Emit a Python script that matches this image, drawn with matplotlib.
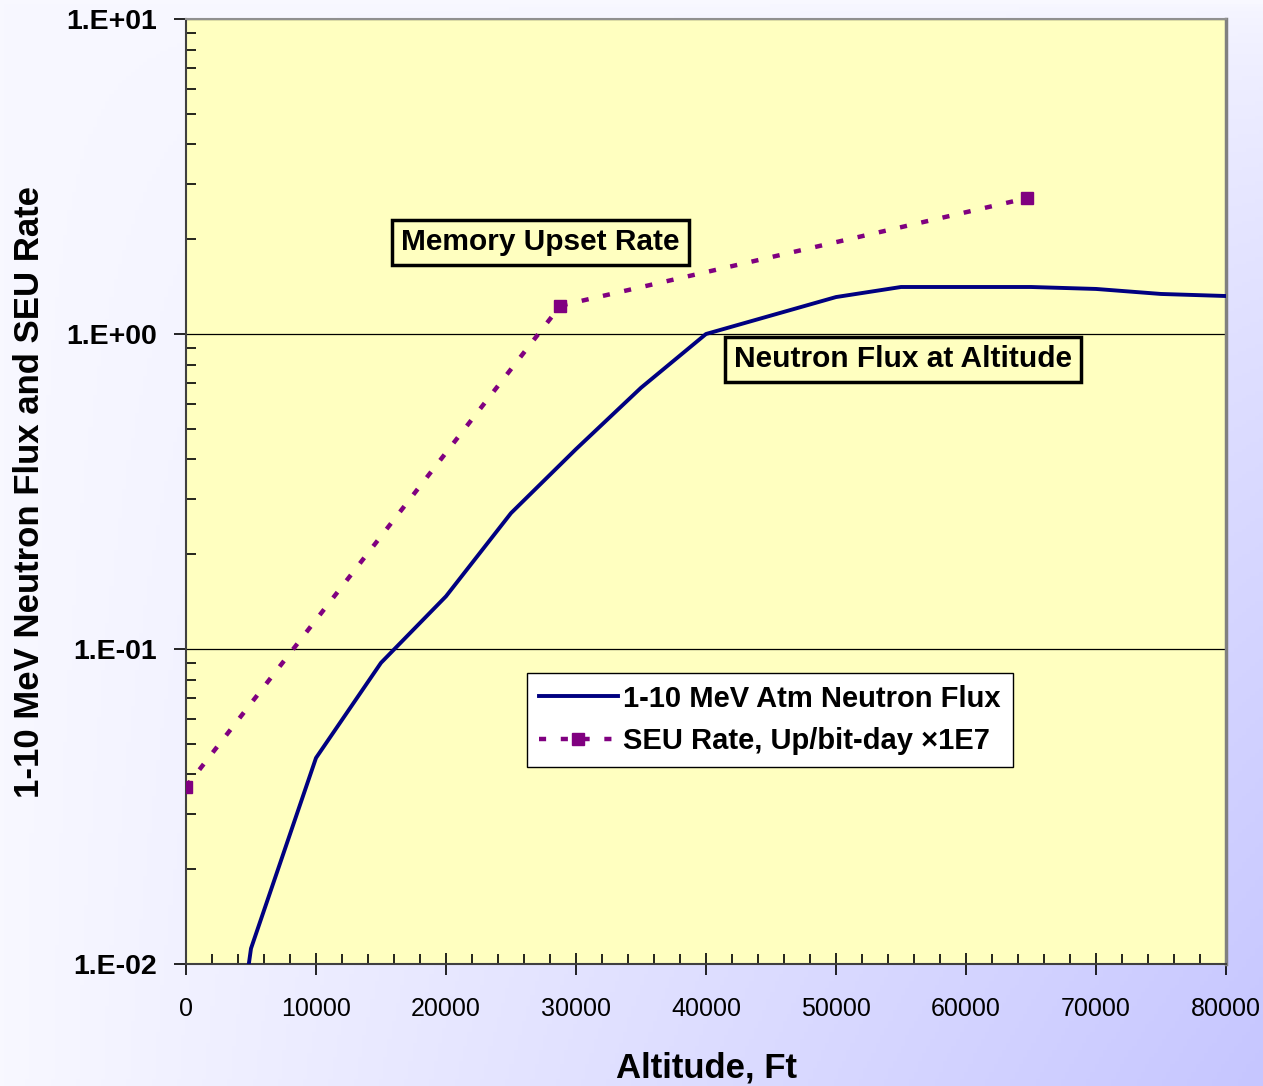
import numpy as np
import matplotlib.pyplot as plt
from matplotlib.ticker import FixedLocator, LogLocator, NullFormatter, MultipleLocator

# neutron flux vs altitude
alt_flux = [4500, 5000, 10000, 15000, 20000, 25000, 30000, 35000, 40000,
            50000, 55000, 60000, 65000, 70000, 75000, 80000]
flux = [0.008, 0.0112, 0.0451, 0.0904, 0.147, 0.270, 0.431, 0.675, 1.0,
        1.31, 1.41, 1.41, 1.41, 1.39, 1.34, 1.32]

# SEU rate x1E7
alt_seu = [0, 28800, 64700]
seu = [0.0365, 1.23, 2.70]

y_ticks = [1e-2, 1e-1, 1e0, 1e1]
y_labels = ['1.E-02', '1.E-01', '1.E+00', '1.E+01']
x_ticks = list(range(0, 80001, 10000))

bold = {'family': 'Liberation Sans', 'weight': 'bold'}

fig = plt.figure(figsize=(12.63, 10.86), dpi=100)

# gradient background (white -> lavender toward bottom right)
bg = fig.add_axes([0, 0, 1, 1], zorder=-10)
gx = np.linspace(0, 1, 300)
gy = np.linspace(0, 1, 300)
X, Y = np.meshgrid(gx, gy)
delta = 50 * X * Y ** 0.6
img = np.zeros((300, 300, 3))
img[..., 0] = (248 - delta) / 255
img[..., 1] = (248 - delta) / 255
img[..., 2] = 1.0
bg.imshow(img, aspect='auto', extent=[0, 1, 0, 1], origin='upper')
bg.axis('off')

ax = fig.add_axes([186 / 1263, 1 - 964 / 1086, 1040 / 1263, 945 / 1086])
ax.set_facecolor('#FFFFC0')

ax.plot(alt_flux, flux, color='#000080', lw=2.8, label='1-10 MeV Atm Neutron Flux', zorder=3)
ax.plot(alt_seu, seu, color='#800080', lw=3.2, dashes=(1.6, 3.3), marker='s', ms=8.5,
        label='SEU Rate, Up/bit-day \u00d71E7', zorder=3)

ax.set_yscale('log')
ax.set_xlim(0, 80000)
ax.set_ylim(1e-2, 1e1)

ax.yaxis.set_major_locator(FixedLocator(y_ticks))
ax.set_yticklabels(y_labels, fontdict=bold, fontsize=20.5)
ax.yaxis.set_minor_locator(LogLocator(base=10, subs=np.arange(2, 10)))
ax.yaxis.set_minor_formatter(NullFormatter())
ax.tick_params(axis='y', which='major', direction='out', length=9, width=1.2, pad=12)
ax.tick_params(axis='y', which='minor', direction='in', length=7, width=1.2)

ax.set_xticks(x_ticks)
ax.set_xticklabels([str(v) for v in x_ticks], family='Liberation Sans', fontsize=18)
ax.xaxis.set_minor_locator(MultipleLocator(2000))
ax.tick_params(axis='x', which='major', direction='inout', length=16, width=1.2, pad=16)
ax.tick_params(axis='x', which='minor', direction='in', length=7, width=1.2)

ax.yaxis.grid(True, which='major', color='black', lw=0.9)
ax.set_axisbelow(True)

ax.spines['left'].set_color('#404040')
ax.spines['bottom'].set_color('#404040')
ax.spines['left'].set_linewidth(1.5)
ax.spines['bottom'].set_linewidth(1.5)
ax.spines['top'].set_color('#909090')
ax.spines['right'].set_color('#808080')
ax.spines['top'].set_linewidth(1.5)
ax.spines['right'].set_linewidth(2.5)

ax.set_xlabel('Altitude, Ft', fontdict=bold, fontsize=25)
ax.xaxis.set_label_coords(0.5, (964 - 1068) / 945)
ax.xaxis.label.set_va('center')
ax.set_ylabel('1-10 MeV Neutron Flux and SEU Rate', fontdict=bold, fontsize=25)
ax.yaxis.set_label_coords((30 - 186) / 1040, 0.5)
ax.yaxis.label.set_va('center')

box = dict(boxstyle='square,pad=0.3', facecolor='#FFFFC0', edgecolor='black', lw=2.5)
ax.text(0.341, 0.7635, 'Memory Upset Rate', transform=ax.transAxes, ha='center', va='center',
        fontdict=bold, fontsize=21.5, bbox=box, zorder=4)
ax.text(0.689, 0.6397, 'Neutron Flux at Altitude', transform=ax.transAxes, ha='center', va='center',
        fontdict=bold, fontsize=21.5, bbox=box, zorder=4)

leg = ax.legend(loc='upper left', bbox_to_anchor=(0.328, 0.308), prop={'family': 'Liberation Sans',
                'weight': 'bold', 'size': 21}, fancybox=False, framealpha=1, edgecolor='black',
                borderpad=0.4, handlelength=2.7, handletextpad=0.2, labelspacing=0.5,
                borderaxespad=0, numpoints=1)
leg.get_frame().set_linewidth(1.0)

fig.savefig('out.png', dpi=100)
